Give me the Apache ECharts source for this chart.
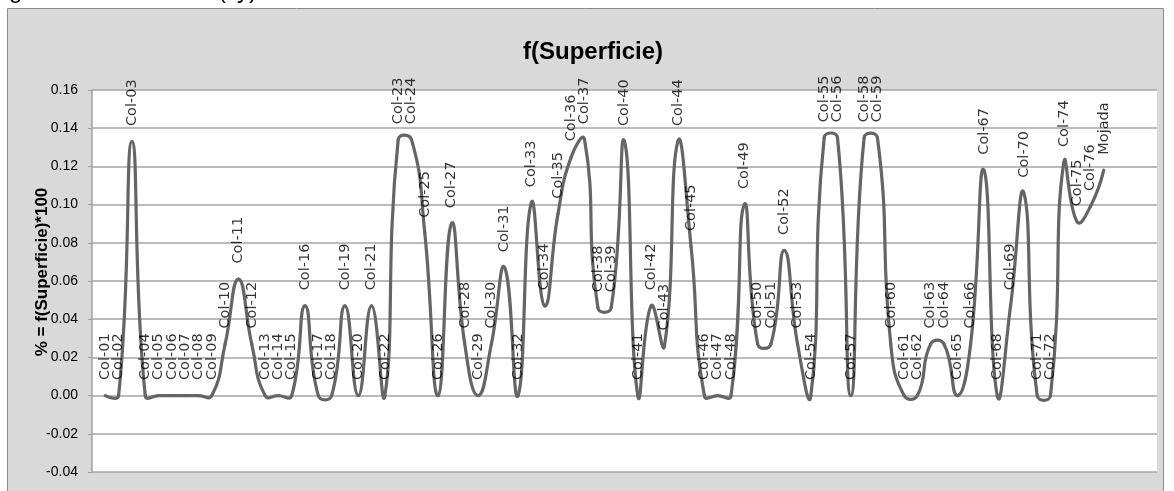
<!DOCTYPE html>
<html>
<head>
<meta charset="utf-8">
<script src="https://cdn.jsdelivr.net/npm/echarts@6/dist/echarts.min.js"></script>
<style>
html,body{margin:0;padding:0;background:#fff;}
#c{width:1174px;height:491px;}
</style>
</head>
<body>
<div id="c"></div>
<script>
const categories = ["Col-01","Col-02","Col-03","Col-04","Col-05","Col-06","Col-07","Col-08","Col-09","Col-10",
"Col-11","Col-12","Col-13","Col-14","Col-15","Col-16","Col-17","Col-18","Col-19","Col-20",
"Col-21","Col-22","Col-23","Col-24","Col-25","Col-26","Col-27","Col-28","Col-29","Col-30",
"Col-31","Col-32","Col-33","Col-34","Col-35","Col-36","Col-37","Col-38","Col-39","Col-40",
"Col-41","Col-42","Col-43","Col-44","Col-45","Col-46","Col-47","Col-48","Col-49","Col-50",
"Col-51","Col-52","Col-53","Col-54","Col-55","Col-56","Col-57","Col-58","Col-59","Col-60",
"Col-61","Col-62","Col-63","Col-64","Col-65","Col-66","Col-67","Col-68","Col-69","Col-70",
"Col-71","Col-72","Col-74","Col-75","Col-76","Mojada"];
const values = [0,0,0.133,0,0,0,0,0,0,0.027,
0.061,0.027,0,0,0,0.047,0,0,0.047,0,
0.047,0,0.134,0.134,0.085,0,0.090,0.027,0,0.027,
0.067,0,0.101,0.047,0.095,0.125,0.134,0.046,0.046,0.133,
0,0.047,0.026,0.133,0.078,0,0,0,0.100,0.027,
0.027,0.076,0.027,0,0.135,0.135,0,0.135,0.135,0.027,
0,0,0.027,0.027,0,0.027,0.118,0,0.047,0.106,
0,0,0.122,0.091,0.099,0.118];
const yTicks = [-0.04,-0.02,0.00,0.02,0.04,0.06,0.08,0.10,0.12,0.14,0.16];
const chartTitle = "f(Superficie)";
const yTitle = "% = f(Superficie)*100";

const seriesData = values.map((v,i)=>[i+1, v, categories[i]]);
const SMOOTH = 0.5;
const LINE_COLOR = '#656565';

function renderSegment(params, api){
  const i = params.dataIndexInside;
  const n = params.dataInsideLength;
  if (i >= n - 1) return null;
  const pt = k => api.coord([api.value(0,k), api.value(1,k)]);
  const p1 = pt(i), p2 = pt(i+1);
  const p0 = i > 0 ? pt(i-1) : null;
  const p3 = i + 2 < n ? pt(i+2) : null;
  const dist = (a,b) => Math.hypot(a[0]-b[0], a[1]-b[1]);
  let c1 = p1.slice(), c2 = p2.slice();
  if (p0){
    const vx = p2[0]-p0[0], vy = p2[1]-p0[1];
    const lp = dist(p1,p0), ln = dist(p2,p1);
    const r = ln/(lp+ln);
    c1 = [p1[0]+vx*SMOOTH*r, p1[1]+vy*SMOOTH*r];
  }
  if (p3){
    const vx = p3[0]-p1[0], vy = p3[1]-p1[1];
    const lp = dist(p2,p1), ln = dist(p3,p2);
    const r = lp/(lp+ln);
    c2 = [p2[0]-vx*SMOOTH*r, p2[1]-vy*SMOOTH*r];
  }
  return {
    type:'bezierCurve',
    shape:{x1:p1[0],y1:p1[1],cpx1:c1[0],cpy1:c1[1],cpx2:c2[0],cpy2:c2[1],x2:p2[0],y2:p2[1]},
    style:{stroke:LINE_COLOR,lineWidth:3.2,fill:null,lineCap:'round'},
    silent:true
  };
}

const chart = echarts.init(document.getElementById('c'), null, {renderer:'canvas'});
chart.setOption({
  animation:false,
  backgroundColor:'#ffffff',
  graphic:[
    {type:'rect', shape:{x:7.5,y:8.5,width:1156,height:500}, style:{fill:'#d9d9d9',stroke:'#8c8c8c',lineWidth:1}, z:-10, silent:true},
    {type:'text', style:{x:9,y:3,text:'g',font:"24px 'Liberation Sans'",fill:'#000',verticalAlign:'bottom'}, z:-5},
    {type:'text', style:{x:218,y:3,text:'(',font:"24px 'Liberation Sans'",fill:'#000',verticalAlign:'bottom'}, z:-5},
    {type:'text', style:{x:237,y:3,text:'y)',font:"24px 'Liberation Sans'",fill:'#000',verticalAlign:'bottom'}, z:-5},
    {type:'text', x:42, y:272, rotation:Math.PI/2,
     style:{x:0,y:0,text:yTitle,font:"bold 17px 'Liberation Sans'",fill:'#000',align:'center',verticalAlign:'middle'}, z:10}
  ],
  title:{
    text:chartTitle,
    left:588, top:47, textAlign:'center', textVerticalAlign:'middle',
    textStyle:{fontFamily:"'Liberation Sans',sans-serif",fontWeight:'bold',fontSize:24,color:'#000'}
  },
  grid:{left:92,right:17,top:90,bottom:19,show:true,backgroundColor:'#ffffff',borderWidth:0},
  xAxis:{type:'value',min:0,max:80,show:false,splitLine:{show:false}},
  yAxis:{
    type:'value',min:-0.04,max:0.16,interval:0.02,
    axisLine:{show:true,lineStyle:{color:'#a0a0a0',width:1.5}},
    axisTick:{show:true,length:4,lineStyle:{color:'#a0a0a0'}},
    axisLabel:{fontFamily:"'Liberation Sans',sans-serif",fontSize:14,color:'#000',margin:14,
      formatter:v=>v.toFixed(2)},
    splitLine:{show:true,lineStyle:{color:'#a5a5a5',width:1.5}}
  },
  series:[{
    type:'custom',
    data:seriesData,
    renderItem:renderSegment,
    encode:{x:0,y:1},
    clip:false,
    z:3
  },{
    type:'scatter',
    data:seriesData,
    symbol:'circle',symbolSize:1,
    itemStyle:{color:'rgba(0,0,0,0)',borderWidth:0},
    label:{
      show:true,position:'top',distance:15,rotate:90,align:'left',verticalAlign:'middle',
      formatter:p=>p.data[2],
      fontFamily:"'DejaVu Sans',sans-serif",fontSize:14.5,color:'#000'
    },
    labelLayout:{hideOverlap:false},
    z:4
  }]
});
</script>
</body>
</html>
